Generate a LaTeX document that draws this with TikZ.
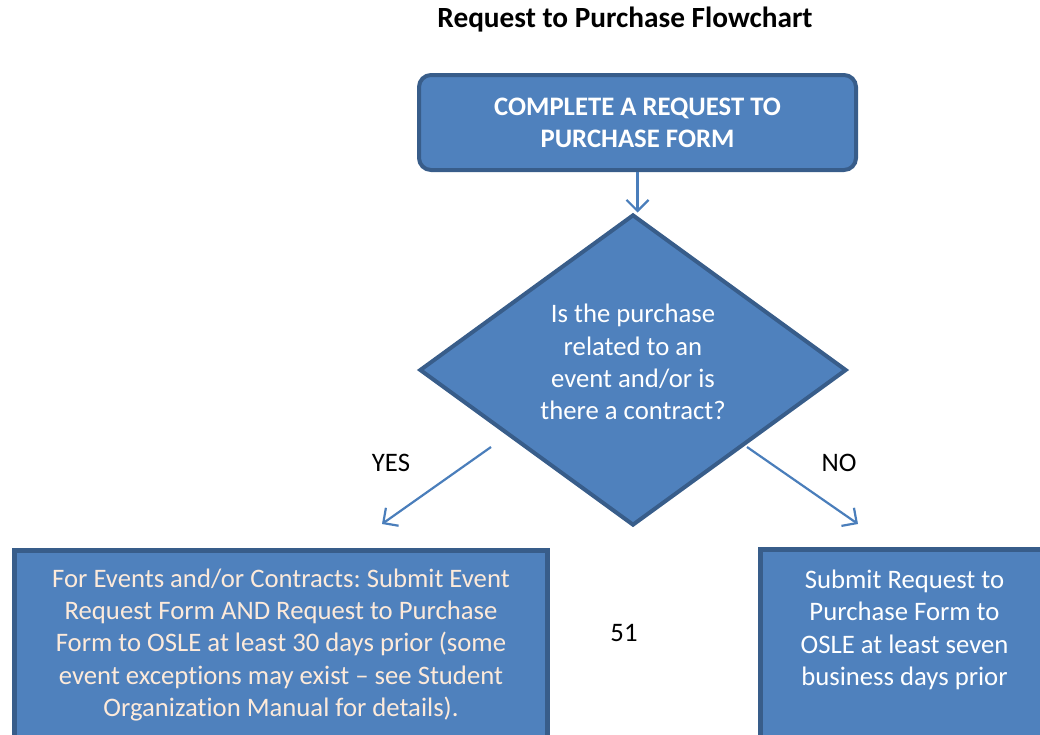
\documentclass[tikz,border=0pt]{standalone}
\usepackage{fontspec}
\setmainfont{Carlito}[Ligatures=NoCommon]
\usetikzlibrary{shapes.geometric,arrows.meta}
\definecolor{boxfill}{HTML}{4F81BD}
\definecolor{boxline}{HTML}{385D8A}
\definecolor{arrowc}{HTML}{4A7EBB}
\definecolor{cream}{HTML}{FDEADA}
\frenchspacing
\begin{document}
\begin{tikzpicture}[x=1pt,y=-1pt,
  flowbox/.style={draw=boxline, fill=boxfill, line width=4pt, text=white, align=center, inner sep=0pt, font=\fontsize{26.7}{32.3}\selectfont},
  conn/.style={draw=arrowc, line width=2.2pt, -{Straight Barb[length=11pt,width=22pt,line width=2.2pt]}},
  plain/.style={font=\fontsize{26.7}{32}\selectfont, text=black, inner sep=0pt}
]
\useasboundingbox (0,0) rectangle (1040,734);
\node[plain, font=\bfseries\fontsize{29.3}{34}\selectfont] (title) at (625,20) {Request to Purchase Flowchart};
\node[flowbox, rounded corners=12pt, minimum width=437pt, minimum height=95pt, font=\bfseries\fontsize{26.7}{32}\selectfont] (start) at (637.5,122.5) {COMPLETE A REQUEST TO\\PURCHASE FORM};
\node[flowbox, diamond, minimum width=427pt, minimum height=311pt,
  label={[text=white, align=center, inner sep=0pt, font=\fontsize{26.7}{32.3}\selectfont, yshift=8pt]center:Is the purchase\\related to an\\event and/or is\\there a contract?}] (dec) at (633,370) {};
\node[flowbox, line width=5pt, minimum width=533pt, minimum height=189pt, text=cream] (yesbox) at (281,645) {For Events and/or Contracts: Submit Event\\Request Form AND Request to Purchase\\Form to OSLE at least 30 days prior (some\\event exceptions may exist -- see Student\\Organization Manual for details).};
\node[flowbox, line width=5pt, minimum width=288pt, minimum height=189pt] (nobox) at (904.5,644) {Submit Request to\\Purchase Form to\\OSLE at least seven\\business days prior\\\mbox{}};
\node[plain] (yeslbl) at (391,463) {YES};
\node[plain] (nolbl) at (839,463) {NO};
\node[plain] (page) at (624,633) {51};
\coordinate (yesS) at (491,447);
\coordinate (yesE) at (382,524);
\coordinate (noS) at (747,447);
\coordinate (noE) at (858,524);
\draw[conn] (start.south) -- (start.south |- dec.north);
\draw[conn] (yesS) -- (yesE);
\draw[conn] (noS) -- (noE);
\end{tikzpicture}
\end{document}
